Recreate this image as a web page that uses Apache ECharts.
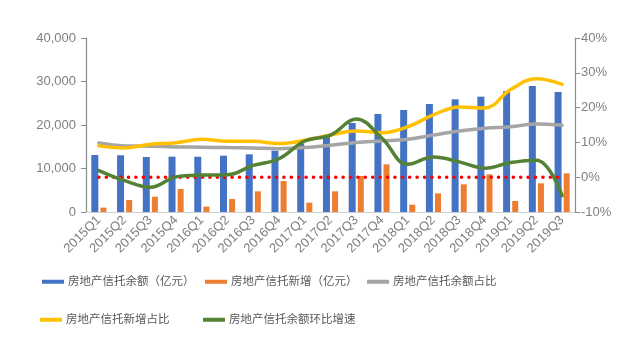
<!DOCTYPE html>
<html>
<head>
<meta charset="utf-8">
<script src="https://cdn.jsdelivr.net/npm/echarts@6/dist/echarts.min.js"></script>
<style>
  html, body { margin: 0; padding: 0; background: #fff; }
  #chart { width: 622px; height: 341px; }
</style>
</head>
<body>
<div id="chart"></div>
<script>
// Quarterly categories
const quarters = ['2015Q1','2015Q2','2015Q3','2015Q4','2016Q1','2016Q2','2016Q3','2016Q4',
  '2017Q1','2017Q2','2017Q3','2017Q4','2018Q1','2018Q2','2018Q3','2018Q4','2019Q1','2019Q2','2019Q3'];

// Real-estate trust balance and new additions (100 million yuan)
const balance = [13100, 13050, 12650, 12720, 12700, 12950, 13260, 14100,
  15700, 17200, 20460, 22530, 23450, 24830, 25900, 26520, 27800, 28970, 27590];
const newAdded = [1000, 2760, 3520, 5290, 1230, 2990, 4750, 7130,
  2150, 4750, 8280, 10960, 1690, 4290, 6360, 8660, 2530, 6590, 8890];

// Shares and growth rates (%)
const balanceShare = [9.8, 9.0, 8.9, 8.7, 8.6, 8.5, 8.4, 8.2,
  8.5, 9.2, 10.0, 10.4, 10.9, 12.1, 13.3, 14.1, 14.5, 15.3, 14.9];
const newShare = [9.0, 8.4, 9.5, 9.9, 10.9, 10.3, 10.3, 9.7,
  10.6, 12.1, 13.3, 12.8, 14.5, 17.9, 20.2, 19.9, 25.2, 28.3, 26.7];
const qoqGrowth = [1.9, -1.0, -2.9, 0.1, 0.6, 0.7, 3.4, 5.3,
  10.4, 12.1, 16.7, 11.2, 3.7, 5.8, 4.4, 2.6, 4.2, 4.9, -5.3];
const zeroRef = quarters.map(() => 0);

// Axis tick labels
const leftTicks = [0, 10000, 20000, 30000, 40000];
const rightTicks = [-10, 0, 10, 20, 30, 40];

const names = ['房地产信托余额（亿元）', '房地产信托新增（亿元）', '房地产信托余额占比',
  '房地产信托新增占比', '房地产信托余额环比增速'];
const colors = ['#4472C4', '#ED7D31', '#A5A5A5', '#FFC000', '#548235'];

const font = "'Liberation Sans', 'Noto Sans CJK SC', sans-serif";
const legendPos = [[42, 276], [205, 276], [367, 276], [40, 314], [203, 314]];

const chart = echarts.init(document.getElementById('chart'), null, { renderer: 'canvas' });

const lineSeries = (name, data, color, z) => ({
  name, type: 'line', yAxisIndex: 1, data, smooth: 0.4, symbol: 'none', z,
  lineStyle: { color, width: 3.5, cap: 'round' }, itemStyle: { color }
});

chart.setOption({
  animation: false,
  textStyle: { fontFamily: font },
  grid: { left: 86, right: 47, top: 38, bottom: 129 },
  legend: names.map((n, i) => ({
    data: [n], left: legendPos[i][0], top: legendPos[i][1],
    icon: 'rect', itemWidth: 22, itemHeight: 4, itemGap: 4, padding: 0,
    textStyle: { color: '#595959', fontSize: 11.5, fontFamily: font, padding: [0, 0, 0, -1] }
  })),
  xAxis: {
    type: 'category', data: quarters,
    axisLine: { lineStyle: { color: '#d0d0d0', width: 1 } },
    axisTick: { show: false },
    axisLabel: { rotate: 45, color: '#7f7f7f', fontSize: 13, margin: 6, interval: 0 }
  },
  yAxis: [
    {
      type: 'value', min: 0, max: 40000, interval: 10000, splitLine: { show: false },
      axisLine: { show: true, lineStyle: { color: '#8c8c8c', width: 1.2 } },
      axisTick: { show: true, length: 5, lineStyle: { color: '#8c8c8c' } },
      axisLabel: {
        color: '#7f7f7f', fontSize: 13, margin: 10,
        formatter: v => leftTicks.includes(v) ? v.toLocaleString('en-US') : ''
      }
    },
    {
      type: 'value', min: -10, max: 40, interval: 10, splitLine: { show: false },
      axisLine: { show: true, lineStyle: { color: '#8c8c8c', width: 1.2 } },
      axisTick: { show: true, length: 5, lineStyle: { color: '#8c8c8c' } },
      axisLabel: {
        color: '#7f7f7f', fontSize: 13, margin: 6,
        formatter: v => rightTicks.includes(v) ? v + '%' : ''
      }
    }
  ],
  series: [
    { name: names[0], type: 'bar', data: balance, barWidth: 7, barGap: '30%',
      itemStyle: { color: colors[0] }, z: 2 },
    { name: names[1], type: 'bar', data: newAdded, barWidth: 6,
      itemStyle: { color: colors[1] }, z: 2 },
    lineSeries(names[2], balanceShare, colors[2], 3),
    lineSeries(names[3], newShare, colors[3], 4),
    {
      // dotted zero reference on the percentage axis
      name: '零线', type: 'line', yAxisIndex: 1, data: zeroRef, symbol: 'none', z: 4,
      lineStyle: { color: '#FF0000', width: 3.5, type: [0.1, 7.3], cap: 'round' }, silent: true
    },
    lineSeries(names[4], qoqGrowth, colors[4], 5)
  ]
});
</script>
</body>
</html>
